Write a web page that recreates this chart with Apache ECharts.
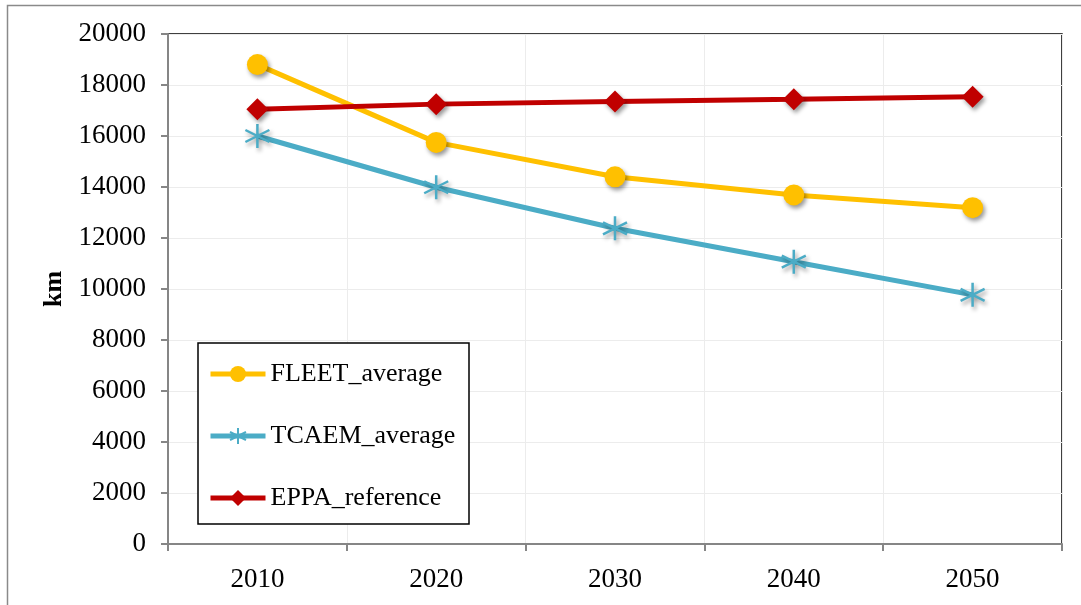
<!DOCTYPE html>
<html>
<head>
<meta charset="utf-8">
<script src="https://cdn.jsdelivr.net/npm/echarts@6/dist/echarts.min.js"></script>
<style>
html,body{margin:0;padding:0;background:#fff;}
#chart{width:1081px;height:605px;}
</style>
</head>
<body>
<div id="chart"></div>
<script>
var categories = ['2010', '2020', '2030', '2040', '2050'];
var fleetAverage = [18800, 15750, 14400, 13690, 13190];
var tcaemAverage = [16000, 13990, 12380, 11070, 9770];
var eppaReference = [17050, 17250, 17350, 17440, 17540];
var yAxisName = 'km';

var FONT = '"Liberation Serif", "Times New Roman", serif';
var asterisk = 'path://M0,-10 L0,10 M-8.66,-5 L8.66,5 M-8.66,5 L8.66,-5';
var shadow = {shadowBlur: 4, shadowColor: 'rgba(0,0,0,0.4)', shadowOffsetX: 2, shadowOffsetY: 3};

var chart = echarts.init(document.getElementById('chart'), null, {renderer: 'canvas'});
chart.setOption({
  backgroundColor: '#ffffff',
  animation: false,
  graphic: [
    {type: 'rect', shape: {x: 7.5, y: 5.5, width: 1100, height: 700}, style: {fill: 'none', stroke: '#8a8a8a', lineWidth: 1.5}, z: 0},
    {type: 'rect', shape: {x: 198, y: 343, width: 271, height: 181}, style: {fill: '#ffffff', stroke: '#000000', lineWidth: 1.5}, z: 5}
  ],
  grid: {left: 168, right: 19, top: 34, bottom: 61, show: true, borderColor: '#000000', borderWidth: 1.5, backgroundColor: 'transparent'},
  legend: {
    orient: 'vertical', left: 208, top: 361, itemWidth: 55, itemHeight: 20, itemGap: 36,
    padding: 0, z: 10,
    lineStyle: {width: 5},
    textStyle: {fontFamily: FONT, fontSize: 26, color: '#000'},
    data: ['FLEET_average', 'TCAEM_average', 'EPPA_reference']
  },
  xAxis: {
    type: 'category', data: categories, boundaryGap: true,
    axisLine: {lineStyle: {color: '#868686', width: 2}},
    axisTick: {show: true, interval: 0, length: 7, lineStyle: {color: '#868686', width: 2}},
    splitLine: {show: true, interval: 0, lineStyle: {color: '#ececec', width: 1}},
    axisLabel: {fontFamily: FONT, fontSize: 27, color: '#000', margin: 22}
  },
  yAxis: {
    type: 'value', min: 0, max: 20000, interval: 2000,
    name: yAxisName, nameLocation: 'middle', nameGap: 98, nameRotate: 90,
    nameTextStyle: {fontFamily: FONT, fontSize: 26, fontWeight: 'bold', color: '#000'},
    axisLine: {show: true, lineStyle: {color: '#868686', width: 2}},
    axisTick: {show: true, length: 7, lineStyle: {color: '#868686', width: 2}},
    splitLine: {show: true, lineStyle: {color: '#ececec', width: 1}},
    axisLabel: {fontFamily: FONT, fontSize: 27, color: '#000', margin: 22, formatter: function (v) { return String(v); }}
  },
  series: [
    {name: 'FLEET_average', type: 'line', data: fleetAverage, symbol: 'circle', symbolSize: 21,
      lineStyle: {color: '#FFC000', width: 5}, itemStyle: Object.assign({color: '#FFC000'}, shadow), z: 3},
    {name: 'TCAEM_average', type: 'line', data: tcaemAverage, symbol: asterisk, symbolSize: 24,
      lineStyle: {color: '#4BACC6', width: 5},
      itemStyle: Object.assign({color: 'none', borderColor: '#4BACC6', borderWidth: 2.5}, shadow), z: 3},
    {name: 'EPPA_reference', type: 'line', data: eppaReference, symbol: 'diamond', symbolSize: 22,
      lineStyle: {color: '#C00000', width: 5}, itemStyle: Object.assign({color: '#C00000'}, shadow), z: 3}
  ]
});
</script>
</body>
</html>
